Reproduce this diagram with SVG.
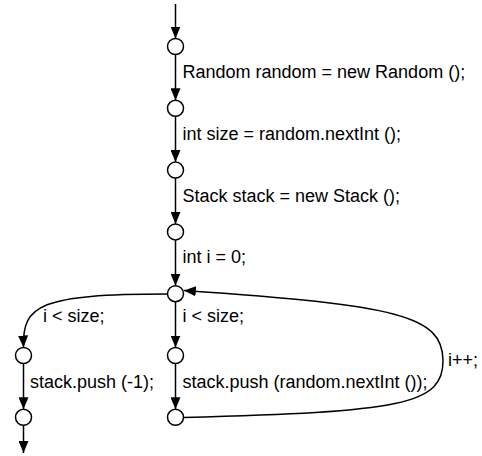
<svg xmlns="http://www.w3.org/2000/svg" width="482" height="456" viewBox="0 0 482 456">
<style>
.n{fill:#fff;stroke:#000;stroke-width:1.5}
.e{fill:none;stroke:#000;stroke-width:1.5}
.t{font-family:"Liberation Sans",Arial,sans-serif;font-size:18px;fill:#000}
</style>
<defs>
<marker id="a" markerUnits="userSpaceOnUse" markerWidth="12" markerHeight="10" refX="12" refY="5" orient="auto">
<path d="M0,0 L12,5 L0,10 z" fill="#000"/>
</marker>
</defs>
<rect width="482" height="456" fill="#fff"/>
<g id="edges">
<path class="e" d="M175.5,4 V38.5" marker-end="url(#a)"/>
<path class="e" d="M175.5,54.5 V100.3" marker-end="url(#a)"/>
<path class="e" d="M175.5,116.3 V162.1" marker-end="url(#a)"/>
<path class="e" d="M175.5,178.1 V223.9" marker-end="url(#a)"/>
<path class="e" d="M175.5,239.9 V285.7" marker-end="url(#a)"/>
<path class="e" d="M175.5,301.7 V347.5" marker-end="url(#a)"/>
<path class="e" d="M175.5,363.5 V409.3" marker-end="url(#a)"/>
<path class="e" d="M167.5,294 C40,294 22,305 23.5,347.5" marker-end="url(#a)"/>
<path class="e" d="M23.5,363.5 V409.3" marker-end="url(#a)"/>
<path class="e" d="M23.5,425.3 V453" marker-end="url(#a)"/>
<path class="e" d="M183.5,417.5 C400,412 444,405 443,360 C442,316 400,305 183.8,290.5" marker-end="url(#a)"/>
</g>
<g id="n0"><circle class="n" cx="175.5" cy="46.5" r="8"/></g>
<g id="n1"><circle class="n" cx="175.5" cy="108.3" r="8"/></g>
<g id="n2"><circle class="n" cx="175.5" cy="170.1" r="8"/></g>
<g id="n3"><circle class="n" cx="175.5" cy="231.9" r="8"/></g>
<g id="n4"><circle class="n" cx="175.5" cy="293.7" r="8"/></g>
<g id="n5"><circle class="n" cx="23.5" cy="355.5" r="8"/></g>
<g id="n6"><circle class="n" cx="23.5" cy="417.3" r="8"/></g>
<g id="n7"><circle class="n" cx="175.5" cy="355.5" r="8"/></g>
<g id="n8"><circle class="n" cx="175.5" cy="417.3" r="8"/></g>
<g id="labels">
<text class="t" x="182.5" y="78">Random random = new Random ();</text>
<text class="t" x="182.5" y="140">int size = random.nextInt ();</text>
<text class="t" x="182.5" y="202">Stack stack = new Stack ();</text>
<text class="t" x="182.5" y="263">int i = 0;</text>
<text class="t" x="43" y="322">i &lt; size;</text>
<text class="t" x="182.5" y="322">i &lt; size;</text>
<text class="t" x="30" y="388">stack.push (-1);</text>
<text class="t" x="182.5" y="388">stack.push (random.nextInt ());</text>
<text class="t" x="448" y="366">i++;</text>
</g>
</svg>
